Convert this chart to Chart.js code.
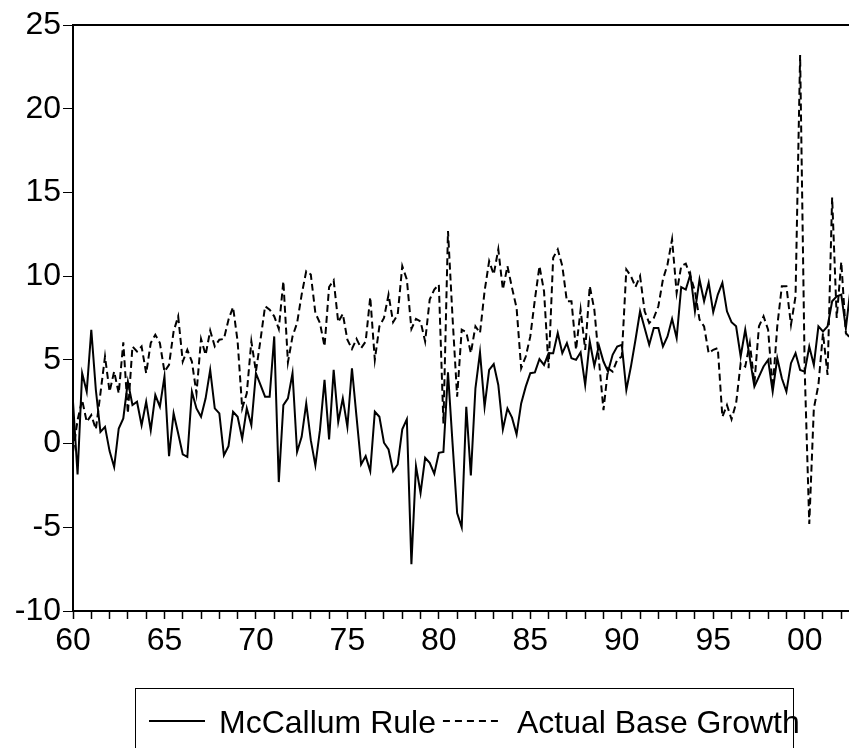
<!DOCTYPE html>
<html>
<head>
<meta charset="utf-8">
<script src="https://cdn.jsdelivr.net/npm/chart.js@4.4.1/dist/chart.umd.min.js"></script>
<style>
html,body{margin:0;padding:0;background:#fff;overflow:hidden;width:849px;height:748px}
#wrap{position:relative;width:860px;height:748px}
</style>
</head>
<body>
<div id="wrap"><canvas id="c" width="860" height="748"></canvas></div>
<script>
// ---- data ----
const seriesNames = ['McCallum Rule', 'Actual Base Growth'];
const startYear = 1960; // first observation 1960Q1, quarterly

const mccallumRule = [
  2.5, -1.85, 4.2, 3.1, 6.8, 3.2, 0.7, 1.0, -0.45, -1.4,
  0.9, 1.5, 3.7, 2.3, 2.5, 1.1, 2.5, 0.8, 2.9, 2.2,
  4.0, -0.75, 1.8, 0.6, -0.65, -0.8, 3.1, 2.1, 1.6, 2.7,
  4.4, 2.1, 1.8, -0.7, -0.15, 1.9, 1.6, 0.3, 2.1, 1.1,
  4.2, 3.5, 2.8, 2.8, 6.4, -2.3, 2.3, 2.7, 4.2, -0.5,
  0.4, 2.4, 0.2, -1.3, 0.8, 3.8, 0.25, 4.4, 1.3, 2.7,
  1.0, 4.5, 1.6, -1.25, -0.75, -1.65, 1.9, 1.6, 0.05, -0.35,
  -1.65, -1.25, 0.85, 1.45, -7.2, -1.35, -2.95, -0.85, -1.15, -1.8,
  -0.55, -0.5, 4.25, 0.0, -4.15, -5.0, 2.2, -1.9, 3.3, 5.45,
  2.2, 4.4, 4.75, 3.5, 0.85, 2.1, 1.55, 0.55, 2.4, 3.4,
  4.2, 4.25, 5.05, 4.7, 5.4, 5.4, 6.6, 5.4, 6.0, 5.1,
  5.0, 5.45, 3.5, 6.1, 4.65, 5.85, 4.9, 4.3, 5.3, 5.8,
  5.9, 3.2, 4.6, 6.2, 7.9, 6.9, 5.9, 6.9, 6.9, 5.8,
  6.4, 7.45, 6.3, 9.35, 9.2, 10.1, 7.9, 9.8, 8.5, 9.6,
  7.85, 8.9, 9.6, 7.9, 7.25, 7.0, 5.2, 6.8, 5.1, 3.4,
  4.0, 4.6, 5.0, 3.1, 5.1, 3.9, 3.1, 4.8, 5.4, 4.4,
  4.3, 5.8, 4.7, 7.0, 6.7, 7.0, 8.5, 8.8, 8.9, 6.9,
  9.2
];

const actualBaseGrowth = [
  -0.5, 1.4, 2.6, 1.3, 1.7, 0.85, 3.0, 5.2, 3.1, 4.3,
  3.0, 6.05, 1.8, 5.8, 5.5, 5.8, 4.2, 6.0, 6.5, 6.0,
  4.3, 4.7, 6.7, 7.6, 4.9, 5.6, 4.9, 3.0, 6.25, 5.3,
  6.75, 5.8, 6.2, 6.25, 7.4, 8.15, 6.1, 2.1, 3.0, 6.1,
  4.3, 6.2, 8.2, 8.0, 7.6, 6.85, 9.7, 4.85, 6.4, 7.2,
  8.9, 10.3, 10.1, 7.8, 7.2, 5.8, 9.35, 9.75, 7.25, 7.75,
  6.2, 5.65, 6.25, 5.7, 6.1, 8.75, 5.0, 7.0, 7.5, 8.9,
  7.25, 7.7, 10.6, 9.8, 6.85, 7.45, 7.3, 6.1, 8.6, 9.2,
  9.5, 1.2, 12.7, 7.5, 2.8, 6.8, 6.65, 5.4, 7.0, 6.6,
  9.1, 10.9, 10.1, 11.6, 9.2, 10.6, 9.3, 8.1, 4.5, 5.2,
  6.4, 8.6, 10.6, 9.1, 4.5, 11.1, 11.6, 10.6, 8.5, 8.5,
  5.6, 8.0, 5.6, 9.4, 8.0, 5.0, 2.0, 4.5, 4.3, 5.0,
  5.2, 10.4, 10.0, 9.35, 10.0, 7.9, 7.2, 7.5, 8.2, 9.8,
  10.7, 12.2, 9.0, 10.6, 10.75, 10.0, 9.1, 7.4, 7.0, 5.4,
  5.6, 5.7, 1.6, 2.3, 1.45, 2.4, 4.8, 4.6, 6.0, 3.6,
  7.0, 7.6, 6.8, 3.3, 7.0, 9.4, 9.4, 7.1, 8.8, 23.2,
  4.4, -4.8, 2.1, 3.5, 6.6, 4.1, 14.7, 7.5, 10.85, 6.6,
  6.3
];

const xMinYear = 1960;
const xMaxYear = 2002.75;
const xTickYears = [];
for (let y = 1960; y <= 2002; y++) xTickYears.push(y);
const xLabelYears = [1960, 1965, 1970, 1975, 1980, 1985, 1990, 1995, 2000];
const xTickLabels = ['60', '65', '70', '75', '80', '85', '90', '95', '00'];
const yTickValues = [-10, -5, 0, 5, 10, 15, 20, 25];
const yMin = -10, yMax = 25;

// ---- build ----
const quarterX = mccallumRule.map((_, i) => startYear + i / 4);
const FONT = '"Liberation Sans", Arial, sans-serif';
const DASH = [7, 4];

const frameAndLegend = {
  id: 'frameAndLegend',
  afterDraw(chart) {
    const { ctx, chartArea: a } = chart;
    ctx.save();
    ctx.strokeStyle = '#000';
    ctx.lineWidth = 2;
    ctx.beginPath();
    ctx.moveTo(a.left - 1, a.top);
    ctx.lineTo(a.right, a.top);
    ctx.lineTo(a.right, a.bottom);
    ctx.stroke();

    // legend box (bottom edge lies below the visible page)
    ctx.lineWidth = 1;
    ctx.strokeRect(135.5, 688.5, 658, 120);
    ctx.font = '32px ' + FONT;
    ctx.fillStyle = '#000';
    ctx.textBaseline = 'alphabetic';
    const midY = 721, baseY = 733;
    let x = 149;
    ctx.lineWidth = 2;
    ctx.setLineDash([]);
    ctx.beginPath(); ctx.moveTo(x, midY); ctx.lineTo(x + 56, midY); ctx.stroke();
    x += 70;
    ctx.fillText(seriesNames[0], x, baseY);
    x += ctx.measureText(seriesNames[0]).width + 7;
    ctx.setLineDash([7, 5]);
    ctx.beginPath(); ctx.moveTo(x, midY); ctx.lineTo(x + 60, midY); ctx.stroke();
    ctx.setLineDash([]);
    x += 74;
    ctx.fillText(seriesNames[1], x, baseY);
    ctx.restore();
  }
};

new Chart(document.getElementById('c'), {
  type: 'line',
  data: {
    datasets: [
      {
        label: seriesNames[0],
        data: mccallumRule.map((v, i) => ({ x: quarterX[i], y: v })),
        borderColor: '#000', borderWidth: 2, pointRadius: 0, tension: 0, fill: false
      },
      {
        label: seriesNames[1],
        data: actualBaseGrowth.map((v, i) => ({ x: quarterX[i], y: v })),
        borderColor: '#000', borderWidth: 2, borderDash: DASH, pointRadius: 0, tension: 0, fill: false
      }
    ]
  },
  options: {
    responsive: false,
    animation: false,
    devicePixelRatio: 1,
    events: [],
    layout: { padding: { top: 25, right: 5, bottom: 0, left: 0 } },
    plugins: { legend: { display: false }, tooltip: { enabled: false } },
    scales: {
      x: {
        type: 'linear',
        min: xMinYear, max: xMaxYear,
        afterBuildTicks: s => { s.ticks = xTickYears.map(v => ({ value: v })); },
        afterFit: s => { s.height = 137; },
        ticks: {
          autoSkip: false, maxRotation: 0, minRotation: 0,
          color: '#000', padding: 3,
          font: { family: FONT, size: 32 },
          callback: v => { const k = xLabelYears.indexOf(v); return k >= 0 ? xTickLabels[k] : ''; }
        },
        grid: { drawOnChartArea: false, drawTicks: true, tickLength: 8, tickColor: '#000', tickWidth: 1.5, color: '#000' },
        border: { display: true, color: '#000', width: 2 }
      },
      y: {
        min: yMin, max: yMax,
        afterBuildTicks: s => { s.ticks = yTickValues.map(v => ({ value: v })); },
        afterFit: s => { s.width = 73; },
        ticks: { color: '#000', padding: 2, font: { family: FONT, size: 32 } },
        grid: { drawOnChartArea: false, drawTicks: true, tickLength: 10, tickColor: '#000', tickWidth: 1, color: '#000' },
        border: { display: true, color: '#000', width: 2 }
      }
    }
  },
  plugins: [frameAndLegend]
});
</script>
</body>
</html>
